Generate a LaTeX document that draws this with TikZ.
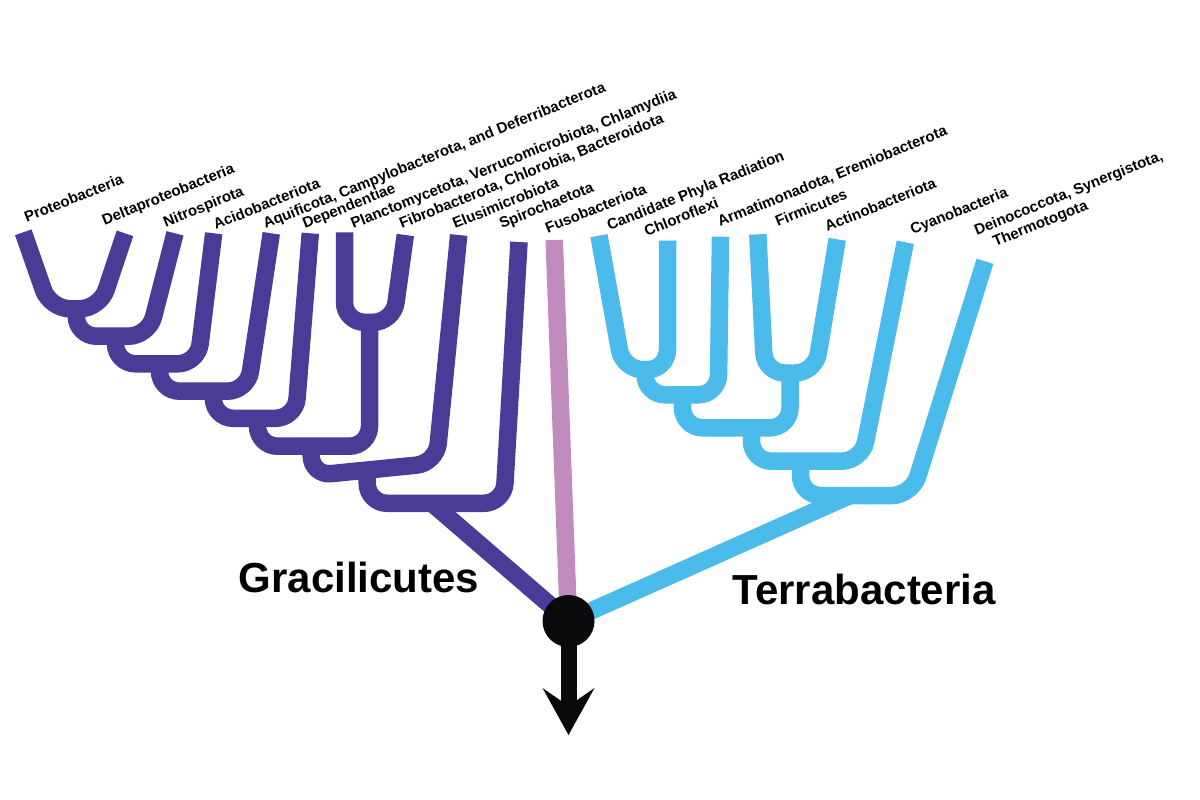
\documentclass[tikz,border=0pt]{standalone}
\usepackage{fontspec}
\setmainfont{Liberation Sans}
\usetikzlibrary{arrows.meta}
\definecolor{gracilpurple}{RGB}{73,59,150}
\definecolor{fusopink}{RGB}{193,139,189}
\definecolor{terrablue}{RGB}{74,187,235}
\definecolor{rootblack}{RGB}{10,10,12}

\begin{document}
\begin{tikzpicture}[
        x=1pt, y=-1pt,
        limb/.style={line width=17.5pt, rounded corners=20pt},
        glimb/.style={limb, draw=gracilpurple},
        tlimb/.style={limb, draw=terrablue},
        taxon/.style={font=\bfseries\fontsize{15}{17.7}\selectfont, rotate=22, anchor=base west, inner sep=0pt, align=left},
        clade/.style={font=\bfseries\fontsize{42}{50}\selectfont, anchor=base west, inner sep=0pt}
    ]
        \useasboundingbox (0,0) rectangle (1200,800);

        % tips of the tree
        \coordinate (proteo)  at (23.3,232.3);
        \coordinate (delta)   at (125,233.3);
        \coordinate (nitro)   at (175,233.3);
        \coordinate (acido)   at (213.7,233.3);
        \coordinate (aquif)   at (271.3,233.3);
        \coordinate (depend)  at (310.3,233.3);
        \coordinate (plancto) at (344.5,232.3);
        \coordinate (fibro)   at (405.3,235);
        \coordinate (elusi)   at (458.7,235);
        \coordinate (spiro)   at (519,242);
        \coordinate (fuso)    at (554.2,240);
        \coordinate (cpr)     at (599,235.7);
        \coordinate (chloro)  at (667.5,240.7);
        \coordinate (armati)  at (720.5,236.7);
        \coordinate (firmi)   at (757.8,234.3);
        \coordinate (actino)  at (837.2,239.3);
        \coordinate (cyano)   at (905.3,242.3);
        \coordinate (deino)   at (985,261.3);

        % Gracilicutes
        \coordinate (g1) at (76.3,308.8);
        \coordinate (g2) at (115.5,336.2);
        \coordinate (g3) at (159.5,363.8);
        \coordinate (g4) at (213.3,391.2);
        \coordinate (g5) at (257.5,418.3);
        \coordinate (pf) at (369.5,322.3);
        \coordinate (g6) at (311.2,446.2);
        \coordinate (g7) at (367.2,470);
        \coordinate (g8) at (432,503.3);
        \draw[glimb] (proteo) -- (50,308.8) -- (99.8,308.8) -- (delta);
        \draw[glimb] (g1) |- (148.6,336.2) -- (nitro);
        \draw[glimb] (g2) |- (197.7,363.8) -- (acido);
        \draw[glimb] (g3) |- (247.5,391.2) -- (aquif);
        \draw[glimb] (g4) |- (295.5,418.3) -- (depend);
        \draw[glimb] (plancto) -- (344.5,322.3) -- (393.3,322.3) -- (fibro);
        \draw[glimb] (g5) |- (369.5,446.2) -- (pf);
        \draw[glimb] (g6) -- (311.2,475.6) -- (436.3,463.2) -- (elusi);
        \draw[glimb] (g7) |- (503.8,503.3) -- (spiro);

        % Terrabacteria
        \coordinate (tA)  at (645,369.7);
        \coordinate (tA2) at (682.5,394.8);
        \coordinate (tB)  at (790,373);
        \coordinate (tAB) at (751.5,427.8);
        \coordinate (tC3) at (800.5,461.2);
        \coordinate (tC4) at (850,495.5);
        \draw[tlimb] (cpr) -- (623,369.7) -- (667.5,369.7) -- (chloro);
        \draw[tlimb] (tA) |- (718.3,394.8) -- (armati);
        \draw[tlimb] (firmi) -- (764.8,373) -- (815.1,373) -- (actino);
        \draw[tlimb] (tA2) |- (790,427.8) -- (tB);
        \draw[tlimb] (tAB) |- (861.8,461.2) -- (cyano);
        \draw[tlimb] (tC3) |- (911.8,495.5) -- (deino);

        % root
        \coordinate (rootc) at (568.5,621);
        \coordinate (arrowend) at (568.5,735);
        \draw[glimb] (g8) -- (rootc);
        \draw[limb, draw=fusopink] (fuso) -- (rootc);
        \draw[tlimb] (tC4) -- (rootc);
        \node[circle, fill=rootblack, minimum size=52pt, inner sep=0pt] (root) at (rootc) {};
        \draw[rootblack, line width=16pt, -{Stealth[length=47pt, width=52pt, inset=18pt, line width=0pt]}] (root.center) -- (arrowend);

        % labels
        \node[taxon] (lproteo)  at (26.7,222.7) {Proteobacteria};
        \node[taxon] (ldelta)   at (104.5,225.5) {Deltaproteobacteria};
        \node[taxon] (lnitro)   at (165.7,227.3) {Nitrospirota};
        \node[taxon] (lacido)   at (215.7,230) {Acidobacteriota};
        \node[taxon] (laquif)   at (265.5,229) {Aquificota, Campylobacterota, and Deferribacterota};
        \node[taxon] (ldepend)  at (305,229) {Dependentiae};
        \node[taxon] (lplancto) at (353.3,229) {Planctomycetota, Verrucomicrobiota, Chlamydiia};
        \node[taxon] (lfibro)   at (401.7,229) {Fibrobacterota, Chlorobia, Bacteroidota};
        \node[taxon] (lelusi)   at (455,229) {Elusimicrobiota};
        \node[taxon] (lspiro)   at (501.7,229) {Spirochaetota};
        \node[taxon] (lfuso)    at (547.7,233.3) {Fusobacteriota};
        \node[taxon] (lcpr)     at (609.5,231) {Candidate Phyla Radiation};
        \node[taxon] (lchloro)  at (646.7,236.7) {Chloroflexi};
        \node[taxon] (larmati)  at (720,227) {Armatimonadota, Eremiobacterota};
        \node[taxon] (lfirmi)   at (777.7,227) {Firmicutes};
        \node[taxon] (lactino)  at (827.3,231.7) {Actinobacteriota};
        \node[taxon] (lcyano)   at (912.7,235) {Cyanobacteria};
        \node[taxon] (ldeino)   at (983.3,251.7) {Deinococcota, Synergistota,\\\hspace*{12.7pt}Thermotogota};

        \node[clade] (gracilicutes)  at (238.5,592.3) {Gracilicutes};
        \node[clade] (terrabacteria) at (732.5,604) {Terrabacteria};
    \end{tikzpicture}
\end{document}
